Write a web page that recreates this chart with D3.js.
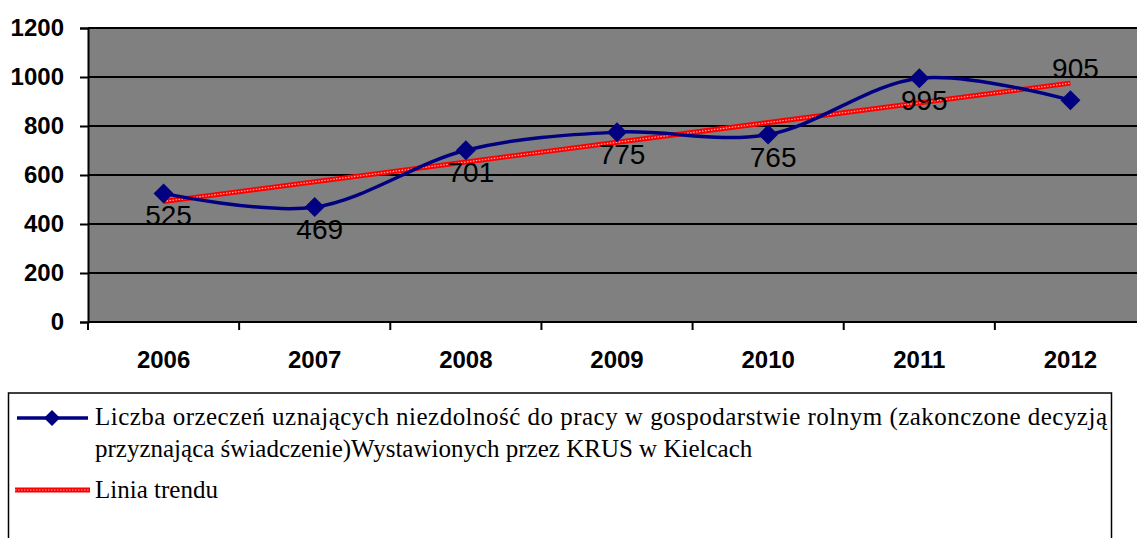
<!DOCTYPE html>
<html>
<head>
<meta charset="utf-8">
<script src="https://cdn.jsdelivr.net/npm/d3@7"></script>
<style>
  body { margin: 0; background: #fff; }
  svg { display: block; }
  .serif { font-family: "Liberation Serif", "Times New Roman", serif; }
  .sans { font-family: "Liberation Sans", Arial, sans-serif; }
</style>
</head>
<body>
<div id="chart"></div>
<script>
(function() {

    // chart data
    var years = ["2006", "2007", "2008", "2009", "2010", "2011", "2012"];
    var values = [525, 469, 701, 775, 765, 995, 905];
    var trendValues = [492, 975]; // trend line at first and last year
    var yTicks = [0, 200, 400, 600, 800, 1000, 1200];

    var seriesName1 = "Liczba orzeczeń uznających niezdolność do pracy w gospodarstwie rolnym (zakonczone decyzją";
    var seriesName2 = "przyznająca świadczenie)Wystawionych przez KRUS w Kielcach";
    var trendName = "Linia trendu";

    var w = 1137, h = 538;
    var left = 88, top = 28, right = 1146, bottom = 322;

    var svg = d3.select("#chart").append("svg")
        .attr("width", w)
        .attr("height", h);

    var xBand = d3.scaleBand().domain(years).range([left, right]);
    var yScale = d3.scaleLinear().domain([0, 1200]).range([bottom, top]);

    function cx(d, i) { return xBand(years[i]) + xBand.bandwidth() / 2; }

    // plot area
    svg.append("rect")
        .attr("x", left).attr("y", top)
        .attr("width", right - left).attr("height", bottom - top)
        .attr("fill", "#808080");

    // gridlines
    svg.append("g").selectAll("line")
        .data(yTicks.slice(1))
        .enter().append("line")
        .attr("x1", left).attr("x2", right)
        .attr("y1", function(d) { return yScale(d); })
        .attr("y2", function(d) { return yScale(d); })
        .attr("stroke", "#000").attr("stroke-width", 2);

    // y axis
    var yAxis = svg.append("g")
        .attr("transform", "translate(" + left + ",0)")
        .call(d3.axisLeft(yScale).tickValues(yTicks).tickSize(8).tickPadding(16).tickFormat(d3.format("d")));
    yAxis.attr("font-family", null).attr("font-size", null);
    yAxis.select(".domain").attr("stroke", "#000").attr("stroke-width", 2);
    yAxis.selectAll(".tick line").attr("stroke", "#000").attr("stroke-width", 2);
    yAxis.selectAll("text")
        .attr("class", "sans")
        .attr("font-size", 24).attr("font-weight", "bold").attr("fill", "#000");

    // x axis
    var xAxisG = svg.append("g").attr("transform", "translate(0," + bottom + ")");
    xAxisG.append("line")
        .attr("x1", left).attr("x2", right)
        .attr("stroke", "#000").attr("stroke-width", 2);
    xAxisG.selectAll("line.tk")
        .data(years.concat(["end"]))
        .enter().append("line")
        .attr("class", "tk")
        .attr("x1", function(d, i) { return left + i * xBand.bandwidth(); })
        .attr("x2", function(d, i) { return left + i * xBand.bandwidth(); })
        .attr("y1", 0).attr("y2", 8)
        .attr("stroke", "#000").attr("stroke-width", 2);
    xAxisG.selectAll("text")
        .data(years)
        .enter().append("text")
        .attr("class", "sans")
        .attr("x", function(d) { return xBand(d) + xBand.bandwidth() / 2; })
        .attr("y", 46)
        .attr("text-anchor", "middle")
        .attr("font-size", 24).attr("font-weight", "bold")
        .text(function(d) { return d; });

    // trend line
    var trendPts = [[cx(null, 0), yScale(trendValues[0])], [cx(null, years.length - 1), yScale(trendValues[1])]];
    svg.append("path")
        .attr("d", d3.line()(trendPts))
        .attr("stroke", "#ff0000").attr("stroke-width", 5).attr("fill", "none");
    svg.append("path")
        .attr("d", d3.line()(trendPts))
        .attr("stroke", "#ffb0b0").attr("stroke-width", 1.2)
        .attr("stroke-dasharray", "1.5,1.5").attr("fill", "none");

    // data line (smoothed like excel)
    var line = d3.line()
        .x(function(d, i) { return cx(d, i); })
        .y(function(d) { return yScale(d); })
        .curve(d3.curveCardinal.tension(0));

    svg.append("path")
        .datum(values)
        .attr("d", line)
        .attr("stroke", "#000080").attr("stroke-width", 3.5).attr("fill", "none");

    var diamond = "M0,-10L10,0L0,10L-10,0Z";

    svg.append("g").selectAll("path")
        .data(values)
        .enter().append("path")
        .attr("d", diamond)
        .attr("transform", function(d, i) { return "translate(" + cx(d, i) + "," + yScale(d) + ")"; })
        .attr("fill", "#000080");

    // value labels
    svg.append("g").selectAll("text")
        .data(values)
        .enter().append("text")
        .attr("class", "sans")
        .attr("x", function(d, i) { return cx(d, i) + 5; })
        .attr("y", function(d, i) { return i === values.length - 1 ? yScale(d) - 22 : yScale(d) + 32; })
        .attr("text-anchor", "middle")
        .attr("font-size", 28).attr("fill", "#000")
        .text(function(d) { return d; });

    // legend
    var lg = svg.append("g");
    lg.append("rect")
        .attr("x", 8.5).attr("y", 393)
        .attr("width", 1103).attr("height", 160)
        .attr("fill", "#fff").attr("stroke", "#000").attr("stroke-width", 1.5);

    lg.append("line")
        .attr("x1", 17).attr("x2", 88).attr("y1", 418).attr("y2", 418)
        .attr("stroke", "#000080").attr("stroke-width", 3.5);
    lg.append("path")
        .attr("d", "M0,-8L8,0L0,8L-8,0Z")
        .attr("transform", "translate(52,418)")
        .attr("fill", "#000080");

    lg.append("line")
        .attr("x1", 15).attr("x2", 90).attr("y1", 490).attr("y2", 490)
        .attr("stroke", "#ff0000").attr("stroke-width", 5);
    lg.append("line")
        .attr("x1", 15).attr("x2", 90).attr("y1", 490).attr("y2", 490)
        .attr("stroke", "#ffb0b0").attr("stroke-width", 1.2).attr("stroke-dasharray", "1.5,1.5");

    var legendTexts = [[seriesName1, 425], [seriesName2, 457], [trendName, 498]];
    lg.selectAll("text")
        .data(legendTexts)
        .enter().append("text")
        .attr("class", "serif")
        .attr("x", 95)
        .attr("y", function(d) { return d[1]; })
        .attr("font-size", 25).attr("fill", "#000")
        .attr("textLength", function(d, i) { return i === 0 ? 1012 : null; })
        .attr("lengthAdjust", "spacing")
        .text(function(d) { return d[0]; });

})();
</script>
</body>
</html>
